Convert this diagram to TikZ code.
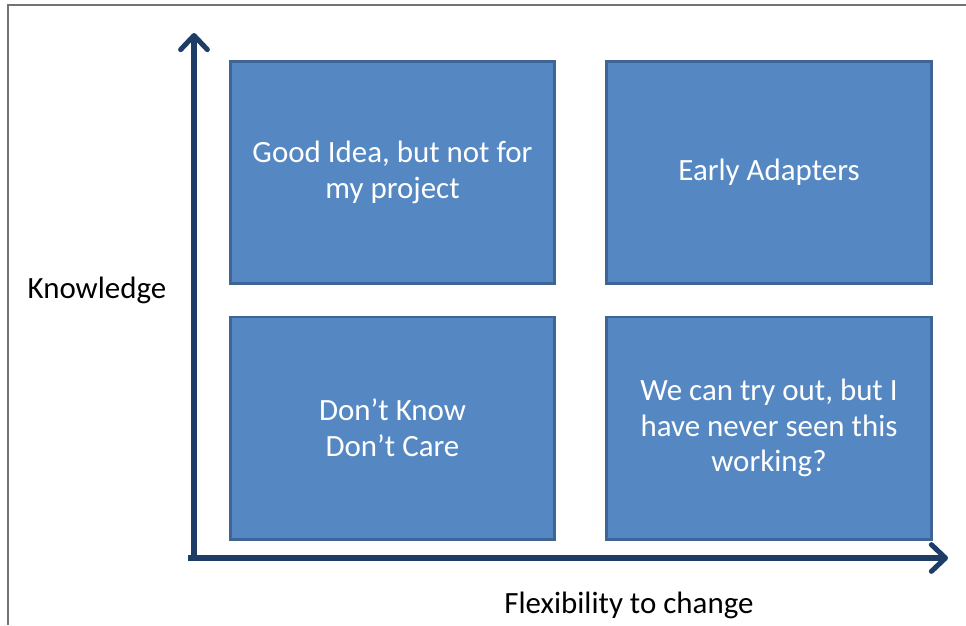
\documentclass[tikz,border=0pt]{standalone}
\usepackage{fontspec}
\setmainfont{Carlito}
\usepackage{tikz}
\usetikzlibrary{arrows.meta,shadows}
\definecolor{quadfill}{HTML}{5588C3}
\definecolor{quadedge}{HTML}{3E6596}
\definecolor{axisblue}{HTML}{1D3D66}

\begin{document}
\begin{tikzpicture}[x=0.025cm,y=-0.025cm,
  quadrant/.style={draw=quadedge,fill=quadfill,line width=2.1pt,
    minimum width=8.1cm,minimum height=5.55cm,inner sep=0pt,
    text=white,align=center,font=\fontsize{22}{25.5}\selectfont,
    drop shadow={shadow xshift=1pt,shadow yshift=-1pt,opacity=0.25}},
  axis/.style={draw=axisblue,line width=3.6pt,
    -{Straight Barb[length=10pt,width=19pt,line cap=round,line join=round]}},
  axislabel/.style={font=\fontsize{22}{26}\selectfont}]
\useasboundingbox (0,0) rectangle (966,625);
% frame around the figure
\draw[gray!90!black,line width=1.2pt] (8,625) -- (8,5) -- (966,5);
% the four quadrants
\node[quadrant] (idea) at (392.5,172.5) {Good Idea, but not for\\my project};
\node[quadrant] (early) at (769,172.5) {Early Adapters};
\node[quadrant] (dontknow) at (392.5,428) {Don't Know\\Don't Care};
\node[quadrant] (tryout) at (769,428) {We can try out, but I\\have never seen this\\working?};
% axes
\coordinate (origin) at (194,558);
\coordinate (ytop) at (194,33);
\coordinate (xend) at (948,558);
\draw[axis,line cap=butt] ([yshift=-2pt]origin) -- (ytop);
\draw[axis] ([xshift=-4pt]origin) -- (xend);
%Labeling axes
\node[axislabel] (know) at (97,290) {Knowledge};
\node[axislabel] (flex) at (629,605) {Flexibility to change};
\end{tikzpicture}
\end{document}
